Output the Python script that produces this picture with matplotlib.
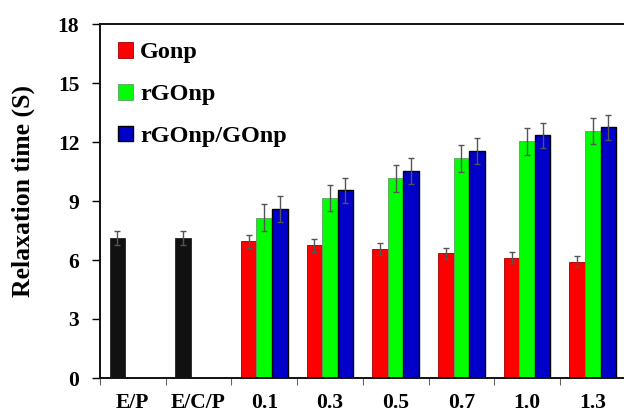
import matplotlib
matplotlib.use("Agg")
import matplotlib.pyplot as plt
import numpy as np

categories = ["E/P", "E/C/P", "0.1", "0.3", "0.5", "0.7", "1.0", "1.3"]

# control samples (single bar each)
control_labels = ["E/P", "E/C/P"]
control_vals = [7.1, 7.1]
control_err = [0.35, 0.35]

# doped samples
loadings = ["0.1", "0.3", "0.5", "0.7", "1.0", "1.3"]
gonp = [6.95, 6.75, 6.55, 6.35, 6.12, 5.92]
gonp_err = [0.33, 0.32, 0.31, 0.28, 0.29, 0.29]
rgonp = [8.15, 9.15, 10.15, 11.18, 12.03, 12.56]
rgonp_err = [0.68, 0.66, 0.70, 0.68, 0.68, 0.66]
mixed = [8.6, 9.54, 10.54, 11.55, 12.34, 12.75]
mixed_err = [0.65, 0.64, 0.66, 0.66, 0.64, 0.64]

plt.rcParams["font.family"] = ["Liberation Serif", "DejaVu Serif"]
plt.rcParams["font.weight"] = "bold"

fig = plt.figure(figsize=(6.24, 4.13), dpi=100)
ax = fig.add_axes([100 / 624, 35 / 413, 525.6 / 624, 354 / 413])

w = 0.236
ekw = dict(ecolor="#555555", elinewidth=1.0, capsize=2.2, capthick=1.0)

ctrl_x = np.arange(len(control_labels))
ax.bar(ctrl_x - w, control_vals, w, color="#111111", edgecolor="#222222",
       linewidth=0.6, yerr=control_err, error_kw=ekw, zorder=2)

gx = np.arange(len(loadings)) + len(control_labels)
ax.bar(gx - w, gonp, w, color="#ff0000", edgecolor="#a00000", linewidth=0.6,
       yerr=gonp_err, error_kw=ekw, label="Gonp", zorder=2)
ax.bar(gx, rgonp, w, color="#00ff00", edgecolor="#5aa060", linewidth=0.6,
       yerr=rgonp_err, error_kw=ekw, label="rGOnp", zorder=2)
ax.bar(gx + w, mixed, w, color="#0000c8", edgecolor="#000000", linewidth=1.0,
       yerr=mixed_err, error_kw=ekw, label="rGOnp/GOnp", zorder=2)

ax.set_xlim(-0.5, len(categories) - 0.5)
ax.set_ylim(0, 18)
ax.set_yticks(np.arange(0, 19, 3))

# boundary ticks between groups, labels centred on groups
ax.set_xticks(np.arange(len(categories)) - 0.5)
ax.set_xticklabels([])
ax.set_xticks(np.arange(len(categories)), minor=True)
ax.set_xticklabels(categories, minor=True)
ax.tick_params(axis="x", which="major", direction="out", length=5, width=0.8, color="#666666")
ax.tick_params(axis="x", which="minor", length=0, pad=11, labelsize=15.5)
ax.tick_params(axis="y", direction="out", length=6, width=1.0, pad=9, labelsize=15.5)

for lab in ax.get_xticklabels(minor=True) + ax.get_yticklabels():
    lab.set_fontweight("bold")

for s in ax.spines.values():
    s.set_linewidth(1.4)
    s.set_color("#111111")

ax.set_ylabel("Relaxation time (S)", fontsize=18.5, fontweight="bold")
ax.yaxis.set_label_coords(-0.124, 0.527)

leg = ax.legend(loc="upper left", bbox_to_anchor=(0.007, 0.99), frameon=False,
                prop={"family": "Liberation Serif", "weight": "bold", "size": 17.5},
                handlelength=0.6, handleheight=0.6, handletextpad=0.3,
                labelspacing=0.85, borderaxespad=0.2)

fig.savefig("out.png", dpi=100)
